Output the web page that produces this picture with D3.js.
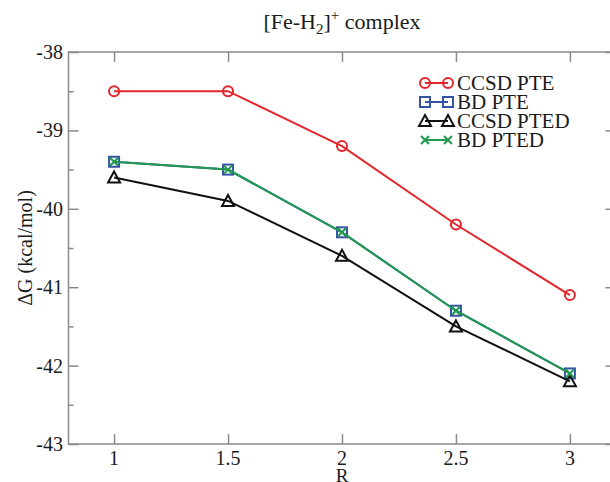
<!DOCTYPE html>
<html><head><meta charset="utf-8">
<script src="https://cdn.jsdelivr.net/npm/d3@7"></script>
<style>body{margin:0;background:#fff}svg{display:block}</style>
</head><body><svg id="c" width="610" height="482" font-family="'Liberation Serif', 'Times New Roman', serif"></svg>
<script>
const rValues = [1, 1.5, 2, 2.5, 3];
const ccsdPTE = [-38.5, -38.5, -39.2, -40.2, -41.1];
const bdPTE = [-39.4, -39.5, -40.3, -41.3, -42.1];
const ccsdPTED = [-39.6, -39.9, -40.6, -41.5, -42.2];
const bdPTED = [-39.4, -39.5, -40.3, -41.3, -42.1];
const seriesNames = ["CCSD PTE", "BD PTE", "CCSD PTED", "BD PTED"];
const xTicks = [1, 1.5, 2, 2.5, 3];
const yTicks = [-43, -42, -41, -40, -39, -38];

const FONT = "Liberation Serif";
const svg = d3.select("#c");
const L = 68.5, R = 615.5, T = 52, B = 444;
const x = d3.scaleLinear().domain([0.8, 3.2]).range([L, R]);
const y = d3.scaleLinear().domain([-43, -38]).range([B, T]);
const axisCol = "#8a8a8a";
const txtCol = "#1a1a1a";

svg.append("rect").attr("x", L).attr("y", T).attr("width", R - L).attr("height", B - T)
  .attr("fill", "none").attr("stroke", axisCol).attr("stroke-width", 1.5);

const gB = svg.append("g").attr("transform", `translate(0,${B})`)
  .call(d3.axisTop(x).tickValues(xTicks).tickSize(10).tickFormat(""));
const gT = svg.append("g").attr("transform", `translate(0,${T})`)
  .call(d3.axisBottom(x).tickValues(xTicks).tickSize(10).tickFormat(""));
const yMinor = d3.range(-42.5, -38, 1);
const gL = svg.append("g").attr("transform", `translate(${L},0)`)
  .call(d3.axisRight(y).tickValues(yTicks).tickSize(10).tickFormat(""));
const gLm = svg.append("g").attr("transform", `translate(${L},0)`)
  .call(d3.axisRight(y).tickValues(yMinor).tickSize(5).tickFormat(""));
const gR = svg.append("g").attr("transform", `translate(${R},0)`)
  .call(d3.axisLeft(y).tickValues(yTicks).tickSize(10).tickFormat(""));
const gRm = svg.append("g").attr("transform", `translate(${R},0)`)
  .call(d3.axisLeft(y).tickValues(yMinor).tickSize(5).tickFormat(""));
[gB, gT, gL, gLm, gR, gRm].forEach(g => {
  g.select(".domain").remove();
  g.selectAll("line").attr("stroke", axisCol).attr("stroke-width", 1.5);
});

svg.append("g").selectAll("text").data(xTicks).join("text")
  .attr("x", d => x(d)).attr("y", 465).attr("text-anchor", "middle").attr("font-family", FONT)
  .attr("font-size", 20).attr("fill", txtCol).text(d => d);
svg.append("g").selectAll("text").data(yTicks).join("text")
  .attr("x", 63).attr("y", d => y(d) + 7).attr("text-anchor", "end").attr("font-family", FONT)
  .attr("font-size", 20).attr("fill", txtCol).text(d => d);

svg.append("text").attr("x", x(2)).attr("y", 482).attr("text-anchor", "middle").attr("font-family", FONT)
  .attr("font-size", 19).attr("fill", txtCol).text("R");
svg.append("text").attr("transform", `translate(32,${(T + B) / 2}) rotate(-90)`).attr("font-family", FONT)
  .attr("text-anchor", "middle").attr("font-size", 20).attr("fill", txtCol).text("ΔG (kcal/mol)");

const title = svg.append("text").attr("x", (L + R) / 2).attr("y", 29).attr("text-anchor", "middle")
  .attr("font-family", FONT).attr("font-size", 22).attr("fill", txtCol);
title.append("tspan").text("[Fe-H");
title.append("tspan").attr("dy", 5).attr("font-size", 15).text("2");
title.append("tspan").attr("dy", -5).text("]");
title.append("tspan").attr("dy", -9).attr("font-size", 15).text("+");
title.append("tspan").attr("dy", 9).text(" complex");

const cols = ["#e3262b", "#3554a5", "#111111", "#1f9a4f"];
const datasets = [ccsdPTE, bdPTE, ccsdPTED, bdPTED];
const line = d3.line().x((d, i) => x(rValues[i])).y(d => y(d));

function marker(g, type, cx, cy, col) {
  if (type === 0) g.append("circle").attr("cx", cx).attr("cy", cy).attr("r", 5)
    .attr("fill", "none").attr("stroke", col).attr("stroke-width", 2);
  else if (type === 1) g.append("rect").attr("x", cx - 5).attr("y", cy - 5).attr("width", 10).attr("height", 10)
    .attr("fill", "none").attr("stroke", col).attr("stroke-width", 2);
  else if (type === 2) g.append("path").attr("d", `M${cx},${cy - 6}L${cx + 6},${cy + 5}L${cx - 6},${cy + 5}Z`)
    .attr("fill", "none").attr("stroke", col).attr("stroke-width", 2);
  else g.append("path").attr("d", `M${cx - 4},${cy - 4}L${cx + 4},${cy + 4}M${cx - 4},${cy + 4}L${cx + 4},${cy - 4}`)
    .attr("stroke", col).attr("stroke-width", 2);
}

datasets.forEach((ds, k) => {
  const g = svg.append("g");
  g.append("path").datum(ds).attr("d", line).attr("fill", "none")
    .attr("stroke", cols[k]).attr("stroke-width", 2);
  ds.forEach((v, i) => marker(g, k, x(rValues[i]), y(v), cols[k]));
});

seriesNames.forEach((n, k) => {
  const cy = 83 + k * 19;
  const g = svg.append("g");
  g.append("line").attr("x1", 425).attr("x2", 448).attr("y1", cy).attr("y2", cy)
    .attr("stroke", cols[k]).attr("stroke-width", 2);
  marker(g, k, 425, cy, cols[k]);
  marker(g, k, 448, cy, cols[k]);
  g.append("text").attr("x", 457).attr("y", cy + 7).attr("font-family", FONT)
    .attr("font-size", 21).attr("fill", txtCol).text(n);
});
</script></body></html>
